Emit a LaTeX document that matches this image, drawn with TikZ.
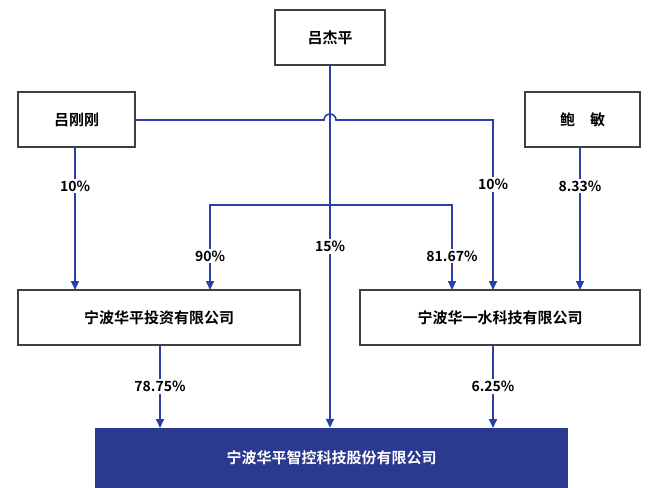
\documentclass[tikz,border=0pt]{standalone}
\usepackage{fontspec}
\setmainfont{Noto Sans CJK SC}[BoldFont={Noto Sans CJK SC Bold}]
\usetikzlibrary{arrows.meta}
\definecolor{lineblue}{HTML}{2B3FA8}
\definecolor{boxblue}{HTML}{2B3990}
\tikzset{
  holder/.style={draw=black!75,line width=1.2pt,minimum height=55pt,font=\bfseries\fontsize{15}{17}\selectfont},
  share/.style={fill=white,inner sep=2pt,font=\bfseries\fontsize{14}{16}\selectfont},
  link/.style={draw=lineblue,line width=1.6pt,-{Triangle[length=9pt,width=8pt]}}
}
\begin{document}
\begin{tikzpicture}[x=1pt,y=-1pt]
\useasboundingbox (0,0) rectangle (660,487);
\node[holder,minimum width=110pt] (ljp) at (330,37.5) {吕杰平};
\node[holder,minimum width=117pt] (lgg) at (76.5,119.5) {吕刚刚};
\node[holder,minimum width=115pt] (bm) at (582.5,119.5) {鲍\quad 敏};
\node[holder,minimum width=282pt] (hpt) at (159,317.5) {宁波华平投资有限公司};
\node[holder,minimum width=280pt] (hys) at (500,317.5) {宁波华一水科技有限公司};
\node[fill=boxblue,minimum width=473pt,minimum height=60pt,text=white,font=\bfseries\fontsize{15}{17}\selectfont] (hpz) at (331.5,458) {宁波华平智控科技股份有限公司};
% shareholdings
\coordinate (fork) at (330,205);
\draw[link] (ljp.south) -- (ljp.south |- hpz.north) node[share,pos=0.5] {15\%};
\draw[link] (fork) -| (210,290) node[share,pos=0.8] {90\%};
\draw[link] (fork) -| (452,290) node[share,pos=0.8] {81.67\%};
\draw[link] (lgg.south -| 75,0) -- (75,290) node[share,pos=0.27] {10\%};
\draw[link] (lgg.east |- 0,120) -- (324,120) arc[start angle=180,end angle=360,radius=6] -- (493,120) -- (493,290) node[share,pos=0.38] {10\%};
\draw[link] (bm.south -| 580,0) -- (580,290) node[share,pos=0.27] {8.33\%};
\draw[link] (hpt.south -| 160,0) -- (160,428) node[share,pos=0.5] {78.75\%};
\draw[link] (hys.south -| 493,0) -- (493,428) node[share,pos=0.5] {6.25\%};
\end{tikzpicture}
\end{document}
